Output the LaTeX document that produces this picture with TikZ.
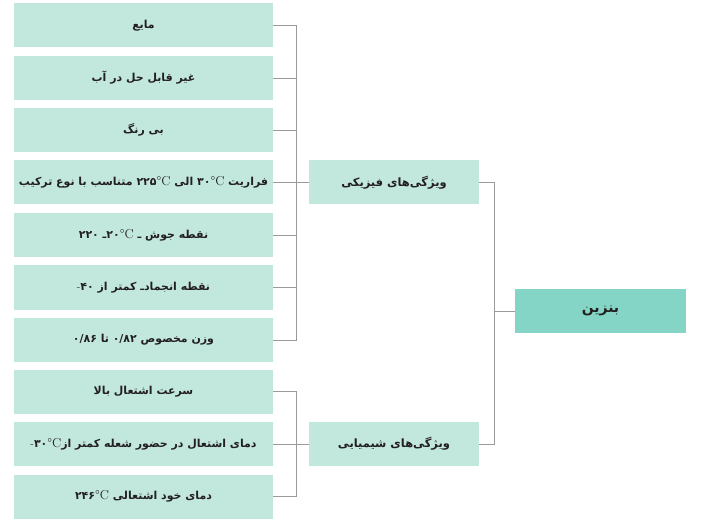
\documentclass[tikz,border=0pt]{standalone}
\usepackage{fontspec}
\TeXXeTstate=1
\newfontfamily\fa[Script=Arabic]{DejaVu Sans}
\definecolor{leafgreen}{HTML}{C2E8DE}
\definecolor{rootgreen}{HTML}{84D5C5}
\definecolor{linkgray}{HTML}{9A9A9A}
\definecolor{inkdark}{HTML}{231F20}
\newcommand{\fatxt}[1]{\fa\bfseries\beginR #1\endR}
\newcommand{\ltr}[1]{\beginL #1\endL}
\newcommand{\degc}{{\normalfont\rmfamily\fontsize{13}{13}\selectfont °C}}
\newcommand{\mns}{{\normalfont\rmfamily -}}
\tikzset{
	leafbox/.style={fill=leafgreen,text=inkdark,minimum width=259bp,minimum height=44bp,inner sep=0,font=\fontsize{11}{13}\selectfont},
	groupbox/.style={fill=leafgreen,text=inkdark,minimum width=170bp,minimum height=44bp,inner sep=0,font=\fontsize{11.5}{13}\selectfont},
	rootbox/.style={fill=rootgreen,text=inkdark,minimum width=171bp,minimum height=44bp,inner sep=0,font=\fontsize{14}{16}\selectfont},
	link/.style={linkgray,line width=0.9bp}
}
\begin{document}
\begin{tikzpicture}[x=1bp,y=-1bp]
	\useasboundingbox (0,0) rectangle (702,524);
	% physical properties
	\node[leafbox] (p1) at (143.5,25.5) {\fatxt{مایع}};
	\node[leafbox] (p2) at (143.5,78) {\fatxt{غیر قابل حل در آب}};
	\node[leafbox] (p3) at (143.5,130) {\fatxt{بی رنگ}};
	\node[leafbox] (p4) at (143.5,182.5) {\fatxt{فراریت \ltr{۳۰\degc} الی \ltr{۲۲۵\degc} متناسب با نوع ترکیب}};
	\node[leafbox] (p5) at (143.5,235) {\fatxt{نقطه جوش ـ \ltr{۲۰\degc}ـ ۲۲۰}};
	\node[leafbox] (p6) at (143.5,287.5) {\fatxt{نقطه انجمادـ کمتر از \ltr{\mns۴۰}}};
	\node[leafbox] (p7) at (143.5,340) {\fatxt{وزن مخصوص \ltr{۰/۸۲} تا \ltr{۰/۸۶}}};
	% chemical properties
	\node[leafbox] (p8) at (143.5,391.5) {\fatxt{سرعت اشتعال بالا}};
	\node[leafbox] (p9) at (143.5,444) {\fatxt{دمای اشتعال در حضور شعله کمتر از\ltr{\mns۳۰\degc}}};
	\node[leafbox] (p10) at (143.5,496.5) {\fatxt{دمای خود اشتعالی \ltr{۲۴۶\degc}}};
	% groups
	\node[groupbox] (phys) at (394,182.5) {\fatxt{ویژگی‌های فیزیکی}};
	\node[groupbox] (chem) at (394,444) {\fatxt{ویژگی‌های شیمیایی}};
	% root
	\node[rootbox] (benz) at (600.5,311) {\fatxt{بنزین}};
	% brackets
	\draw[link] (p1.east) -- ++(23,0) |- (p7.east);
	\draw[link] (p2.east) -- ++(23,0);
	\draw[link] (p3.east) -- ++(23,0);
	\draw[link] (p5.east) -- ++(23,0);
	\draw[link] (p6.east) -- ++(23,0);
	\draw[link] (p4.east) -- (phys.west);
	\draw[link] (p8.east) -- ++(23,0) |- (p10.east);
	\draw[link] (p9.east) -- (chem.west);
	\draw[link] (phys.east) -- ++(15,0) |- (chem.east);
	\draw[link] (benz.west) -- ++(-21,0);
\end{tikzpicture}
\end{document}
